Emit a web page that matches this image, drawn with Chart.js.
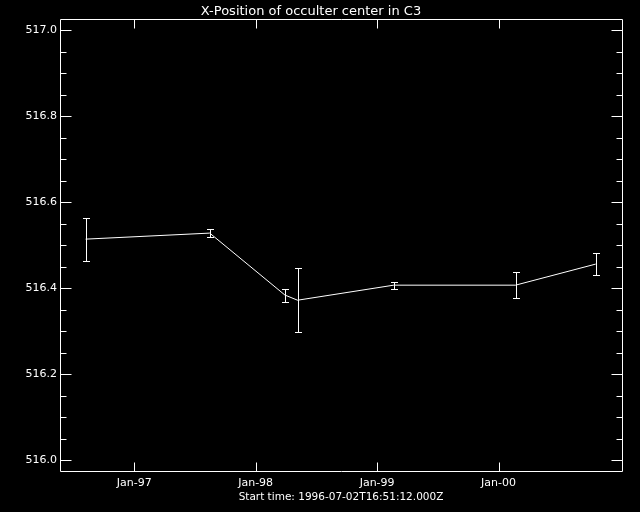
<!DOCTYPE html>
<html>
<head>
<meta charset="utf-8">
<script src="https://cdn.jsdelivr.net/npm/chart.js@4"></script>
<style>
  html, body { margin: 0; padding: 0; background: #000; }
  #wrap { width: 640px; height: 512px; }
</style>
</head>
<body>
<div id="wrap"><canvas id="myChart" width="640" height="512"></canvas></div>
<script>
// dados
const dates = ['1996-08-08', '1997-08-16', '1998-03-30', '1998-05-07', '1999-02-20', '2000-02-21', '2000-10-19'];
const xPos = [516.514, 516.528, 516.384, 516.372, 516.407, 516.407, 516.456];
const xErr = [0.050, 0.010, 0.015, 0.075, 0.008, 0.030, 0.025];

const tickDates = ['1997-01-01', '1998-01-01', '1999-01-01', '2000-01-01'];
const tickLabels = ['Jan-97', 'Jan-98', 'Jan-99', 'Jan-00'];
const yTicks = [516.0, 516.2, 516.4, 516.6, 516.8, 517.0];
const yMinorStep = 0.05;

const xMinDate = '1996-05-23';
const xMaxDate = '2001-01-06';
const yMin = 515.975;
const yMax = 517.025;

// dias desde 1970
function toDays(d) {
    return Date.parse(d + 'T00:00:00Z') / 864e5;
}

const tickValues = tickDates.map(toDays);
const points = dates.map((d, i) => ({ x: toDays(d), y: xPos[i] }));

Chart.defaults.font.family = 'DejaVu Sans';
Chart.defaults.color = '#fff';

// moldura, ticks internos e barras de erro
const idlAxes = {
    id: 'idlAxes',
    beforeDraw(chart) {
        const ctx = chart.ctx;
        ctx.save();
        ctx.fillStyle = '#000';
        ctx.fillRect(0, 0, chart.width, chart.height);
        ctx.restore();
    },
    afterDraw(chart) {
        const ctx = chart.ctx;
        const a = chart.chartArea;
        const xs = chart.scales.x;
        const ys = chart.scales.y;
        const L = Math.round(a.left) + 0.5, R = Math.round(a.right) + 0.5;
        const T = Math.round(a.top) + 0.5, B = Math.round(a.bottom) + 0.5;
        ctx.save();
        ctx.strokeStyle = '#fff';
        ctx.lineWidth = 1;
        ctx.beginPath();
        ctx.rect(L, T, R - L, B - T);

        tickValues.forEach(v => {
            const px = Math.round(xs.getPixelForValue(v)) + 0.5;
            ctx.moveTo(px, B); ctx.lineTo(px, B - 9);
            ctx.moveTo(px, T); ctx.lineTo(px, T + 9);
        });

        const n = Math.round((yTicks[yTicks.length - 1] - yTicks[0]) / yMinorStep);
        for (let i = 0; i <= n; i++) {
            const v = yTicks[0] + i * yMinorStep;
            const major = i % 4 === 0;
            const len = major ? 11 : 6;
            const py = Math.round(ys.getPixelForValue(v)) + 0.5;
            ctx.moveTo(L, py); ctx.lineTo(L + len, py);
            ctx.moveTo(R, py); ctx.lineTo(R - len, py);
        }

        points.forEach((p, i) => {
            const px = Math.round(xs.getPixelForValue(p.x)) + 0.5;
            const top = Math.round(ys.getPixelForValue(p.y + xErr[i])) + 0.5;
            const bot = Math.round(ys.getPixelForValue(p.y - xErr[i])) + 0.5;
            ctx.moveTo(px, top); ctx.lineTo(px, bot);
            ctx.moveTo(px - 3.5, top); ctx.lineTo(px + 3.5, top);
            ctx.moveTo(px - 3.5, bot); ctx.lineTo(px + 3.5, bot);
        });
        ctx.stroke();
        ctx.restore();
    }
};

const ctx = document.getElementById('myChart').getContext('2d');
const myChart = new Chart(ctx, {
    type: 'line',
    data: {
        datasets: [{
            label: 'X-Position',
            data: points,
            borderColor: '#fff',
            borderWidth: 1,
            pointRadius: 0,
            tension: 0,
            fill: false
        }]
    },
    options: {
        responsive: false,
        animation: false,
        layout: { padding: { left: 0, right: 18, top: 0, bottom: 0 } },
        plugins: {
            legend: { display: false },
            tooltip: { enabled: false },
            title: {
                display: true,
                text: 'X-Position of occulter center in C3',
                color: '#fff',
                font: { size: 13, weight: 'normal', lineHeight: 1.1 },
                padding: { top: 4, bottom: 1 }
            }
        },
        scales: {
            x: {
                type: 'linear',
                min: toDays(xMinDate),
                max: toDays(xMaxDate),
                afterBuildTicks: s => { s.ticks = tickValues.map(v => ({ value: v })); },
                afterFit: s => { s.height = 41; },
                grid: { display: false, drawTicks: false },
                border: { display: false },
                ticks: {
                    color: '#fff',
                    font: { size: 11 },
                    padding: 6,
                    maxRotation: 0,
                    autoSkip: false,
                    callback: v => tickLabels[tickValues.indexOf(v)]
                },
                title: {
                    display: true,
                    text: 'Start time: 1996-07-02T16:51:12.000Z',
                    color: '#fff',
                    font: { size: 10.5 },
                    padding: { top: 8, bottom: 8 }
                }
            },
            y: {
                min: yMin,
                max: yMax,
                afterBuildTicks: s => { s.ticks = yTicks.map(v => ({ value: v })); },
                afterFit: s => { s.width = 60; },
                grid: { display: false, drawTicks: false },
                border: { display: false },
                ticks: {
                    color: '#fff',
                    font: { size: 11 },
                    padding: 3,
                    callback: v => v.toFixed(1)
                }
            }
        }
    },
    plugins: [idlAxes]
});
</script>
</body>
</html>
